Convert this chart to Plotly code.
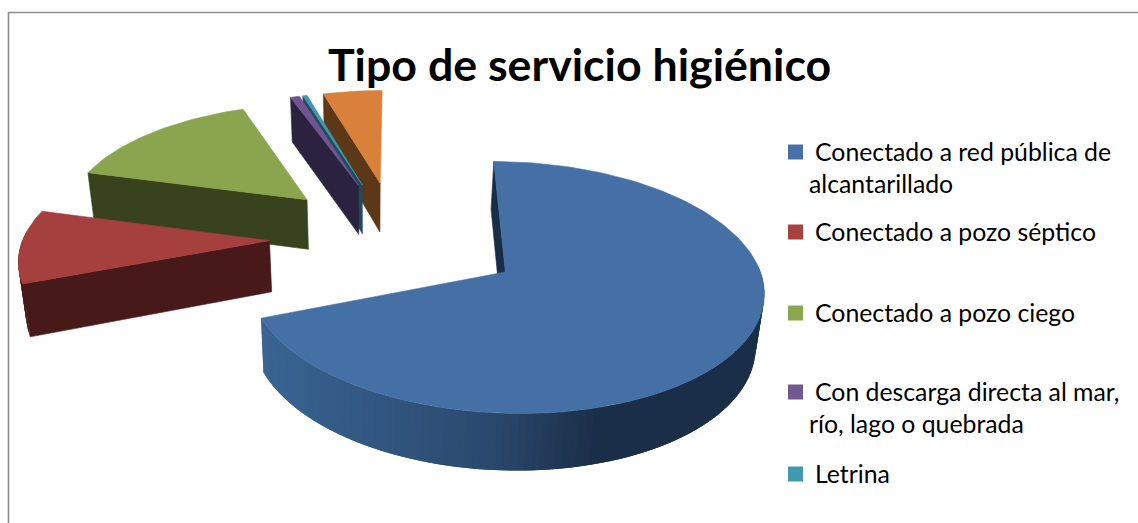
import math
import plotly.graph_objects as go

# ---- data ----
categories = [
    "Conectado a red pública de<br>alcantarillado",
    "Conectado a pozo séptico",
    "Conectado a pozo ciego",
    "Con descarga directa al mar,<br>río, lago o quebrada",
    "Letrina",
    "Otro",
]
values = [69.2, 10.0, 15.25, 0.7, 0.33, 4.52]
title_text = "Tipo de servicio higiénico"

# ---- styles ----
top_colors = ["#4570a5", "#a5403e", "#8aa54d", "#70548f", "#3e97ae", "#d9803a"]
wall_colors = ["#1a2d47", "#471a19", "#38421c", "#2b2240", "#1f4c5c", "#5c3817"]
legend_colors = ["#4670a6", "#a8423f", "#8aa64f", "#71588f", "#4198af"]
legend_first_y = [151, 231, 312, 391, 473]
FONT = "Lato"

# ---- 3-D pie projection ----
H, A, B, XC = -731.0, 8108.0, 2114.0, 400.0
CX, CD, EXPLODE, RX = -0.012, 8.37, 0.504, 0.975
VX, VSHIFT = 370.0, 0.022


def top(X, D):
    return XC + B * X / D, H + A / D


def bottom(X, D):
    sx, sy = top(X, D)
    return sx + (VX - sx) * VSHIFT, sy + 57.0 - (D - 7.1) * 4.64


def polygon(pts, color, line=None, width=0.6):
    xs, ys = zip(*pts)
    return go.Scatter(
        x=list(xs) + [xs[0]], y=list(ys) + [ys[0]], mode="lines", fill="toself",
        fillcolor=color, line=dict(color=line or color, width=width),
        hoverinfo="skip", showlegend=False,
    )


def lerp_hex(stops, v):
    if v <= stops[0][0]:
        return stops[0][1]
    for (a, ca), (b, cb) in zip(stops, stops[1:]):
        if v <= b:
            t = (v - a) / (b - a)
            c = [round(int(ca[i:i + 2], 16) * (1 - t) + int(cb[i:i + 2], 16) * t) for i in (1, 3, 5)]
            return "#%02x%02x%02x" % tuple(c)
    return stops[-1][1]


blue_stops = [(260, "#3a6594"), (400, "#31557f"), (507, "#2a486c"), (610, "#1b2e48")]

total = sum(values)
sweeps = []
acc = 0.0
for v in values:
    sweeps.append((acc, acc + v / total * 360))
    acc += v / total * 360

traces = []
for i in [5, 4, 3, 2, 1, 0]:
    t0, t1 = sweeps[i]
    mid = math.radians((t0 + t1) / 2)
    ax, ad = CX + EXPLODE * math.sin(mid), CD + EXPLODE * math.cos(mid)
    n = max(3, int((t1 - t0) / 1.5))
    ang = [math.radians(t0 + (t1 - t0) * k / n) for k in range(n + 1)]
    rim = [(ax + RX * math.sin(a), ad + math.cos(a)) for a in ang]

    # radial face on the slice's opening edge
    traces.append(polygon([top(ax, ad), top(*rim[0]), bottom(*rim[0]), bottom(ax, ad)], wall_colors[i]))

    # outer wall, front-facing part only; each quad overlaps the next to hide seams
    for k in range(n - 1, -1, -1):
        mid_a = (ang[k] + ang[k + 1]) / 2
        if math.cos(mid_a) < 0.05:
            c = wall_colors[i]
            if i == 0:
                c = lerp_hex(blue_stops, top(*rim[k])[0])
            e = min(k + 2, n)
            traces.append(polygon([top(*rim[k]), top(*rim[e]), bottom(*rim[e]), bottom(*rim[k])], c, width=0))

    # top face
    traces.append(polygon([top(ax, ad)] + [top(*p) for p in rim], top_colors[i]))

# ---- legend swatches (the sixth entry falls outside the crop) ----
traces.append(go.Scatter(
    x=[795.5] * len(legend_first_y), y=[y + 1 for y in legend_first_y], mode="markers",
    marker=dict(symbol="square", size=15, color=legend_colors, line=dict(width=0)),
    hoverinfo="skip", showlegend=False,
))

annotations = []
for label, y in zip(categories, legend_first_y):
    for j, part in enumerate(label.split("<br>")):
        annotations.append(dict(
            x=813 if j == 0 else 806.5, y=y + (j * 32), xref="x", yref="y", text=part,
            showarrow=False, xanchor="left", yanchor="middle",
            font=dict(family=FONT, size=24.8, color="#000000"),
        ))
annotations.append(dict(
    x=579, y=64, xref="x", yref="y", text="<b>%s</b>" % title_text, showarrow=False,
    xanchor="center", yanchor="middle", font=dict(family=FONT, size=44.7, color="#000000"),
))

fig = go.Figure(traces)
fig.update_layout(
    width=1138, height=523, margin=dict(l=0, r=0, t=0, b=0),
    paper_bgcolor="#ffffff", plot_bgcolor="#ffffff", showlegend=False,
    xaxis=dict(range=[0, 1138], visible=False, fixedrange=True),
    yaxis=dict(range=[523, 0], visible=False, fixedrange=True),
    annotations=annotations,
    shapes=[dict(type="path", path="M 8.5 523 L 8.5 12.5 L 1138 12.5",
                 line=dict(color="#8e8e8e", width=1.6), xref="x", yref="y", layer="below")],
)
fig.write_html("out.html", config=dict(displayModeBar=False),
               post_script="document.body.style.margin='0';document.body.style.overflow='hidden';")
